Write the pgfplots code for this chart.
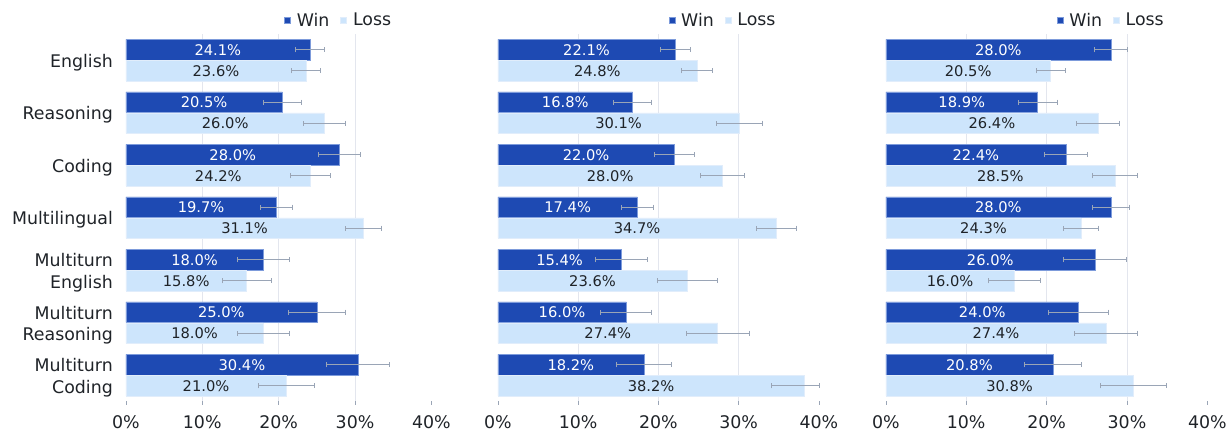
\documentclass[border=0pt]{standalone}
\usepackage{fontspec}
\setmainfont{DejaVu Sans}
\usepackage{pgfplots}
\usepackage{pgfplotstable}
\pgfplotsset{compat=1.18}
\definecolor{winc}{HTML}{1E4AB3}
\definecolor{winedge}{HTML}{7D9BDB}
\definecolor{lossc}{HTML}{CDE5FC}
\definecolor{lossedge}{HTML}{E1EDFB}
\definecolor{errc}{HTML}{9AA5B6}
\definecolor{gridc}{HTML}{E3E6EE}
\definecolor{textc}{HTML}{1F2328}

% y w ew l lm lp
\pgfplotstableread{
y w ew l lm lp
0 24.1 1.9 23.6 1.9 1.9
1 20.5 2.5 26.0 2.7 2.7
2 28.0 2.75 24.2 2.6 2.6
3 19.7 2.05 31.1 2.4 2.4
4 18.0 3.4 15.8 3.2 3.2
5 25.0 3.75 18.0 3.4 3.4
6 30.4 4.1 21.0 3.65 3.65
}\dataA
\pgfplotstableread{
y w ew l lm lp
0 22.1 1.9 24.8 1.9 1.9
1 16.8 2.35 30.1 2.85 2.85
2 22.0 2.5 28.0 2.75 2.75
3 17.4 2.0 34.7 2.45 2.45
4 15.4 3.25 23.6 3.75 3.75
5 16.0 3.2 27.4 3.95 3.95
6 18.2 3.4 38.2 4.1 1.9
}\dataB
\pgfplotstableread{
y w ew l lm lp
0 28.0 2.0 20.5 1.8 1.8
1 18.9 2.4 26.4 2.7 2.7
2 22.4 2.65 28.5 2.8 2.8
3 28.0 2.3 24.3 2.15 2.15
4 26.0 3.9 16.0 3.2 3.2
5 24.0 3.75 27.4 3.95 3.95
6 20.8 3.5 30.8 4.15 4.15
}\dataC

\pgfplotsset{
  panel/.style={
    anchor=south west,
    scale only axis,
    height=368pt,
    xmin=0, xmax=40,
    ymin=-0.5, ymax=6.5,
    y dir=reverse,
    clip=false,
    axis x line*=bottom,
    axis y line*=left,
    axis line style={draw=none},
    xtick={0,10,20,30,40},
    xticklabel={\pgfmathprintnumber{\tick}\%},
    /pgf/number format/assume math mode=true,
    tick align=outside,
    x tick style={color=errc, line width=0.6pt},
    major tick length=3.5pt,
    ytick={0,1,2,3,4,5,6},
    y tick style={draw=none},
    ticklabel style={font=\fontsize{17.4}{22}\selectfont, text=textc},
    yticklabel style={align=right, xshift=-6pt, yshift=-2.5pt},
    xticklabel style={yshift=-7pt},
    extra x ticks={10,20,30},
    extra x tick labels={},
    extra x tick style={major tick length=0pt, grid=major, major grid style={color=gridc, line width=0.9pt}},
    legend columns=2,
    legend style={draw=none, fill=none, font=\fontsize{17.4}{22}\selectfont, text=textc,
      anchor=south west, yshift=2pt,
      /tikz/every odd column/.append style={column sep=4pt},
      /tikz/every even column/.append style={column sep=9pt}},
    legend image code/.code={\fill[##1] (0pt,-3pt) rectangle (6pt,3pt);},
  },
  winbar/.style={xbar, bar shift=0pt, bar width=0.39, fill=winc, draw=winedge, line width=0.6pt,
    error bars/.cd, x dir=both, x explicit,
    error bar style={color=errc, line width=0.9pt},
    error mark options={color=errc, line width=0.9pt, mark size=2.6pt, rotate=90}},
  lossbar/.style={xbar, bar shift=0pt, bar width=0.39, fill=lossc, draw=lossedge, line width=0.6pt,
    error bars/.cd, x dir=both, x explicit,
    error bar style={color=errc, line width=0.9pt},
    error mark options={color=errc, line width=0.9pt, mark size=2.6pt, rotate=90}},
  vlabel/.style={forget plot, draw=none, mark=none, point meta=explicit,
    nodes near coords={\pgfmathprintnumber[fixed,fixed zerofill,precision=1,assume math mode=true]{\pgfplotspointmeta}\%},
    nodes near coords style={anchor=center, font=\fontsize{14.7}{16}\selectfont, text=#1}},
}

\begin{document}
\begin{tikzpicture}
\path (0,0) rectangle (1230pt,431pt);
% Panel 1
\begin{axis}[panel, at={(126pt,29pt)}, width=306pt,
  legend style={at={(rel axis cs:0.508,1)}},
  yticklabels={English,Reasoning,Coding,Multilingual,{Multiturn\\English},{Multiturn\\Reasoning},{Multiturn\\Coding}}]
\addplot[winbar] table[x=w, y expr=\thisrow{y}-0.2, x error=ew] {\dataA};
\addplot[lossbar] table[x=l, y expr=\thisrow{y}+0.2, x error plus=lp, x error minus=lm] {\dataA};
\addplot[vlabel=white] table[x expr=\thisrow{w}/2, y expr=\thisrow{y}-0.2, meta=w] {\dataA};
\addplot[vlabel=textc] table[x expr=\thisrow{l}/2, y expr=\thisrow{y}+0.2, meta=l] {\dataA};
\legend{Win,Loss}
\end{axis}
% Panel 2
\begin{axis}[panel, at={(498.5pt,29pt)}, width=321.5pt, yticklabels={},
  legend style={at={(rel axis cs:0.522,1)}}]
\addplot[winbar] table[x=w, y expr=\thisrow{y}-0.2, x error=ew] {\dataB};
\addplot[lossbar] table[x=l, y expr=\thisrow{y}+0.2, x error plus=lp, x error minus=lm] {\dataB};
\addplot[vlabel=white] table[x expr=\thisrow{w}/2, y expr=\thisrow{y}-0.2, meta=w] {\dataB};
\addplot[vlabel=textc] table[x expr=\thisrow{l}/2, y expr=\thisrow{y}+0.2, meta=l] {\dataB};
\legend{Win,Loss}
\end{axis}
% Panel 3
\begin{axis}[panel, at={(887pt,29pt)}, width=322pt, yticklabels={},
  legend style={at={(rel axis cs:0.522,1)}}]
\addplot[winbar] table[x=w, y expr=\thisrow{y}-0.2, x error=ew] {\dataC};
\addplot[lossbar] table[x=l, y expr=\thisrow{y}+0.2, x error plus=lp, x error minus=lm] {\dataC};
\addplot[vlabel=white] table[x expr=\thisrow{w}/2, y expr=\thisrow{y}-0.2, meta=w] {\dataC};
\addplot[vlabel=textc] table[x expr=\thisrow{l}/2, y expr=\thisrow{y}+0.2, meta=l] {\dataC};
\legend{Win,Loss}
\end{axis}
\end{tikzpicture}
\end{document}
